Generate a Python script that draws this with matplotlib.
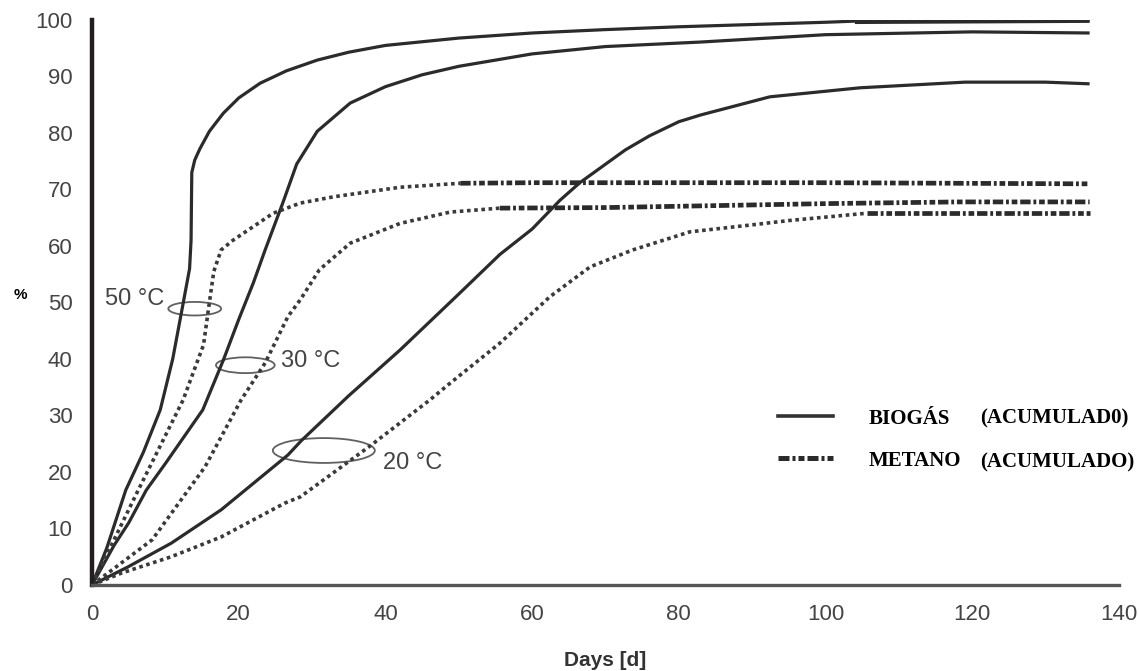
"""Cumulative biogas / methane production at 20, 30 and 50 degC."""

import matplotlib

matplotlib.use("Agg")
import matplotlib.pyplot as plt
import numpy as np
from matplotlib.lines import Line2D
from matplotlib.patches import Ellipse

# --- data ----------------------------------------------------------------------------
BIO50_DAYS = [0, 2, 4.6, 7, 9.3, 11, 12.3, 13.3, 13.5, 13.6, 14.0, 14.7, 16, 17.9, 20,
              22.9, 26.5, 30.7, 35, 40, 50, 60, 70, 80, 90, 100, 104, 120, 136]
BIO50_PCT = [0, 6.5, 16.8, 23.5, 31, 40, 49, 56, 61, 73, 75.2, 77.2, 80.3, 83.5, 86.2,
             88.8, 91, 92.9, 94.3, 95.5, 96.8, 97.7, 98.3, 98.8, 99.2, 99.6, 99.8, 99.9, 100]

BIO30_DAYS = [0, 3, 5, 7.4, 10, 15.1, 17.9, 20, 22, 23.6, 26, 27.9, 30.7, 35.2, 40, 45, 50,
              60, 70, 83, 100, 120, 136]
BIO30_PCT = [0, 7, 11, 16.8, 21.5, 31, 39.8, 47, 53.5, 59.3, 67.6, 74.5, 80.3, 85.3, 88.2,
             90.3, 91.8, 94, 95.3, 96.1, 97.4, 97.9, 97.7]

BIO20_DAYS = [0, 4.9, 10.8, 17.6, 26.7, 28.5, 35, 42, 50, 55.6, 60, 63.8, 66.5, 72.7, 76,
              80, 83, 92.4, 104.7, 119, 130, 136]
BIO20_PCT = [0, 3.2, 7.4, 13.3, 23, 25.5, 33.5, 41.6, 51.5, 58.5, 63, 68.1, 71.2, 77, 79.5,
             82, 83.2, 86.4, 88, 89, 89, 88.7]

MET50_DAYS = [0, 6.3, 12.4, 15.2, 16.0, 16.6, 17.6, 19.2, 24.7, 28.4, 32.9, 42, 50.2, 60,
              80, 100, 118, 136]
MET50_PCT = [0, 16.8, 32.7, 42.5, 50, 55.5, 59.3, 61, 65.8, 67.6, 68.7, 70.4, 71.1, 71.2,
             71.2, 71.2, 71.1, 71.0]

MET30_DAYS = [0, 8.2, 15.4, 20.3, 23.6, 26.7, 28.4, 31, 35.2, 42, 48.8, 55.6, 70, 83, 100,
              118, 136]
MET30_PCT = [0, 8, 20.9, 32.7, 39.3, 47.5, 50.5, 55.8, 60.5, 64, 66, 66.7, 66.8, 67.1, 67.5,
             67.8, 67.8]

MET20_DAYS = [0, 4, 10.8, 17.6, 26.3, 28.4, 37.9, 46, 48.8, 55.6, 62.4, 67.9, 73.7, 81.5,
              89.7, 95, 105.6, 120, 136]
MET20_PCT = [0, 2.1, 5, 8.5, 14.5, 15.6, 24.6, 32.7, 35.7, 42.8, 51, 56.3, 59.3, 62.5,
             63.7, 64.5, 65.8, 65.8, 65.8]

X_TICKS = [0, 20, 40, 60, 80, 100, 120, 140]
Y_TICKS = [0, 10, 20, 30, 40, 50, 60, 70, 80, 90, 100]

# temperature markers: (label, ellipse centre, width, height, text position, alignment)
TEMP_MARKS = [
    ("50 °C", (14.0, 48.9), 7.2, 2.4, (9.9, 50.6), "right"),
    ("30 °C", (20.9, 38.9), 8.0, 2.8, (25.8, 39.6), "left"),
    ("20 °C", (31.6, 23.8), 13.9, 4.4, (39.6, 21.6), "left"),
]

# where the methane curves switch from the dotted rise to the dash-dot plateau
MET_SPLIT = {"50": 50.2, "30": 55.6, "20": 105.6}
BIO50_THICK_FROM = 104

LINE_C = "#2b2b2b"
TEXT_C = "#444444"
MET_DOT = (0, (1.0, 1.0))
MET_PLATEAU = (0, (2.2, 0.6, 0.6, 0.6, 1.2, 0.6))


def plot_methane(ax, days, pct, split):
    days, pct = np.asarray(days), np.asarray(pct)
    rise = days <= split
    flat = days >= split
    ax.plot(days[rise], pct[rise], color="#3a3a3a", lw=2.6, ls=MET_DOT,
            dash_capstyle="butt")
    ax.plot(days[flat], pct[flat], color=LINE_C, lw=3.4, ls=MET_PLATEAU,
            dash_capstyle="butt")


def main():
    plt.rcParams["font.family"] = ["Liberation Sans", "DejaVu Sans"]
    fig = plt.figure(figsize=(11.39, 6.71), dpi=100)
    ax = fig.add_axes([0.0808, 0.1282, 0.9016, 0.842])

    for days, pct in ((BIO50_DAYS, BIO50_PCT), (BIO30_DAYS, BIO30_PCT),
                      (BIO20_DAYS, BIO20_PCT)):
        ax.plot(days, pct, color=LINE_C, lw=2.3, solid_capstyle="butt")
    d50, p50 = np.asarray(BIO50_DAYS), np.asarray(BIO50_PCT)
    tail = d50 >= BIO50_THICK_FROM
    ax.plot(d50[tail], p50[tail], color=LINE_C, lw=4.2, solid_capstyle="butt")

    plot_methane(ax, MET50_DAYS, MET50_PCT, MET_SPLIT["50"])
    plot_methane(ax, MET30_DAYS, MET30_PCT, MET_SPLIT["30"])
    plot_methane(ax, MET20_DAYS, MET20_PCT, MET_SPLIT["20"])

    for label, centre, w, h, txt_pos, ha in TEMP_MARKS:
        ax.add_patch(Ellipse(centre, w, h, fill=False, ec="#606060", lw=1.3))
        ax.text(*txt_pos, label, ha=ha, va="center", fontsize=17, color=TEXT_C)

    ax.set_xlim(0, 140)
    ax.set_ylim(0, 100)
    ax.set_xticks(X_TICKS)
    ax.set_yticks(Y_TICKS)
    ax.tick_params(length=0, labelsize=16, labelcolor=TEXT_C)
    ax.tick_params(axis="y", pad=14)
    ax.tick_params(axis="x", pad=14)
    for side in ("top", "right"):
        ax.spines[side].set_visible(False)
    ax.spines["left"].set(lw=3.2, color="#231f20")
    ax.spines["bottom"].set(lw=2.4, color="#555555")

    ax.set_xlabel("Days [d]", fontsize=15, fontweight="bold", color="#333333")
    ax.xaxis.set_label_coords(0.5, -0.116)
    ax.set_ylabel("%", rotation=0, fontsize=11, fontweight="bold", color="black")
    ax.yaxis.set_label_coords(-0.070, 0.50)

    handles = [
        Line2D([], [], color="#333333", lw=2.6),
        Line2D([], [], color=LINE_C, lw=3.6, ls=MET_PLATEAU, dash_capstyle="butt"),
    ]
    leg = ax.legend(handles, ["BIOGÁS", "METANO"], loc="upper left",
                    bbox_to_anchor=(0.668, 0.312), frameon=False, borderpad=0,
                    borderaxespad=0, handlelength=2.65, handletextpad=1.7,
                    labelspacing=1.05,
                    prop={"family": "Liberation Serif", "weight": "bold", "size": 15})
    for t in leg.get_texts():
        t.set_color("black")
    for y, txt in ((0.295, "(ACUMULAD0)"), (0.217, "(ACUMULADO)")):
        ax.text(0.865, y, txt, transform=ax.transAxes, ha="left", va="center",
                fontsize=15, fontweight="bold", family="Liberation Serif", color="black")

    fig.savefig("out.png", dpi=100)


if __name__ == "__main__":
    main()
